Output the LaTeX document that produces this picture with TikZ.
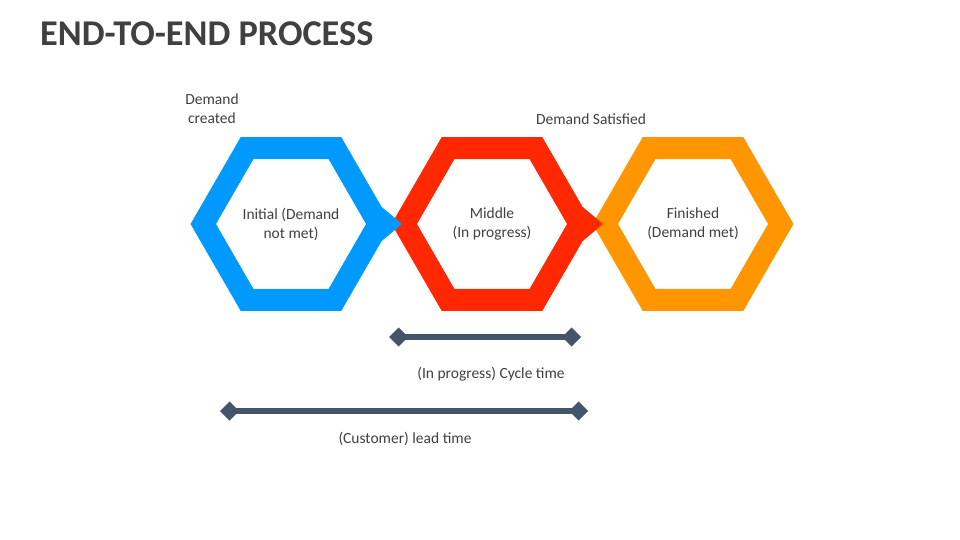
\documentclass[tikz,border=0pt]{standalone}
\usepackage{fontspec}
\setmainfont{Carlito}
\usetikzlibrary{shapes.geometric,arrows.meta}

\definecolor{hexblue}{RGB}{0,153,255}
\definecolor{hexred}{RGB}{255,40,0}
\definecolor{hexorange}{RGB}{255,150,0}
\definecolor{barslate}{RGB}{68,84,106}
\definecolor{txtgray}{RGB}{64,64,64}

\tikzset{
	hexring/.style={draw=#1, regular polygon, regular polygon sides=6,
		minimum size=175.5pt, inner sep=0pt, line width=22pt, line join=miter,
		text=txtgray, align=center, font=\fontsize{15.5}{19}\selectfont},
	hextip/.style={fill=#1},
	label/.style={text=txtgray, align=center, font=\fontsize{15.5}{19}\selectfont},
	timebar/.style={draw=barslate, line width=6pt,
		{Diamond[length=19pt,width=19pt]}-{Diamond[length=19pt,width=19pt]}}
}

\begin{document}
\begin{tikzpicture}[x=1pt,y=-1pt]
		\useasboundingbox (0,0) rectangle (960,540);
		% title
		\node[anchor=base west, inner sep=0pt, text=txtgray, font=\fontsize{36.3}{40}\selectfont\bfseries] (title) at (40,46) {END-TO-END PROCESS};
		% the three stages
		\node[hexring=hexblue] (initial) at (291,224) {Initial (Demand\\not met)};
		\node[hexring=hexred] (middle) at (492,224) {Middle\\(In progress)};
		\node[hexring=hexorange] (finished) at (693,224) {Finished\\(Demand met)};
		\fill[hextip=hexblue] ([shift={(90.7,-17)}]initial.center) -- ([shift={(111,0)}]initial.center) -- ([shift={(90.7,17)}]initial.center) -- cycle;
		\fill[hextip=hexred] ([shift={(90.7,-17)}]middle.center) -- ([shift={(111,0)}]middle.center) -- ([shift={(90.7,17)}]middle.center) -- cycle;
		% labels above
		\node[label] (created) at (212,109) {Demand\\created};
		\node[label] (satisfied) at (591,119) {Demand Satisfied};
		% time bars
		\coordinate (cycleA) at (389,337);
		\coordinate (cycleB) at (581,337);
		\coordinate (leadA) at (220,411);
		\coordinate (leadB) at (588,411);
		\draw[timebar] (cycleA) -- (cycleB);
		\draw[timebar] (leadA) -- (leadB);
		\node[label] (cycletime) at (491,374) {(In progress) Cycle time};
		\node[label] (leadtime) at (405,439) {(Customer) lead time};
\end{tikzpicture}
\end{document}
